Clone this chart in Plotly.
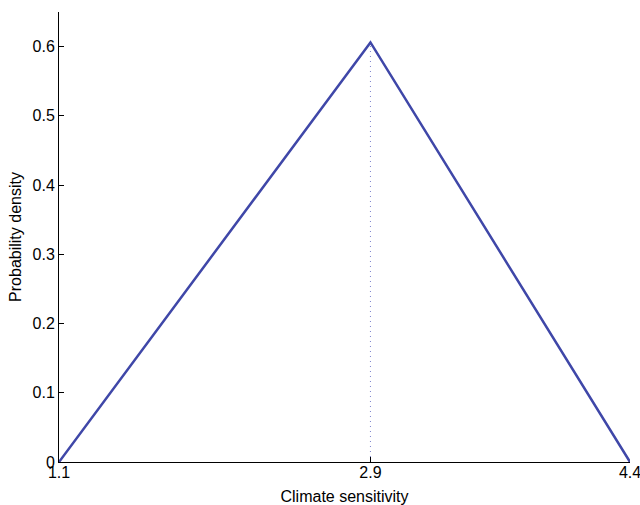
import plotly.graph_objects as go

# Triangular probability density for climate sensitivity
sensitivity = [1.1, 2.9, 4.4]
density = [0.0, 0.606, 0.0]
mode_x = [2.9, 2.9]
mode_y = [0.0, 0.606]

x_ticks = [1.1, 2.9, 4.4]
x_tick_text = ["1.1", "2.9", "4.4"]
y_ticks = [0, 0.1, 0.2, 0.3, 0.4, 0.5, 0.6]
y_tick_text = ["0", "0.1", "0.2", "0.3", "0.4", "0.5", "0.6"]

line_color = "#3F47A8"

fig = go.Figure()
fig.add_trace(go.Scatter(
    x=mode_x, y=mode_y, mode="lines",
    line=dict(color="#7C82CC", width=1, dash="1px,4px"),
    hoverinfo="skip", showlegend=False,
))
fig.add_trace(go.Scatter(
    x=sensitivity, y=density, mode="lines",
    line=dict(color=line_color, width=2.5),
    showlegend=False, cliponaxis=False,
))

font = dict(family="Liberation Sans, Arial, Helvetica, sans-serif", size=16, color="#000000")

fig.update_layout(
    width=640, height=505,
    margin=dict(l=59, r=10, t=12, b=43),
    paper_bgcolor="white", plot_bgcolor="white",
    font=font,
    xaxis=dict(
        range=[1.1, 4.4], tickvals=x_ticks, ticktext=x_tick_text,
        ticks="inside", ticklen=5, tickwidth=1, tickcolor="#000000",
        showline=True, linecolor="#000000", linewidth=1,
        showgrid=False, zeroline=False, automargin=False,
        ticklabeloverflow="allow", ticklabelstandoff=-4,
        title=dict(text="Climate sensitivity", standoff=11, font=font),
        tickfont=font,
    ),
    yaxis=dict(
        range=[0, 0.65], tickvals=y_ticks, ticktext=y_tick_text,
        ticks="inside", ticklen=5, tickwidth=1, tickcolor="#000000",
        showline=True, linecolor="#000000", linewidth=1,
        showgrid=False, zeroline=False, automargin=False,
        ticklabeloverflow="allow",
        title=dict(text="Probability density", standoff=6, font=font),
        tickfont=font,
    ),
)

fig.write_html("out.html")
